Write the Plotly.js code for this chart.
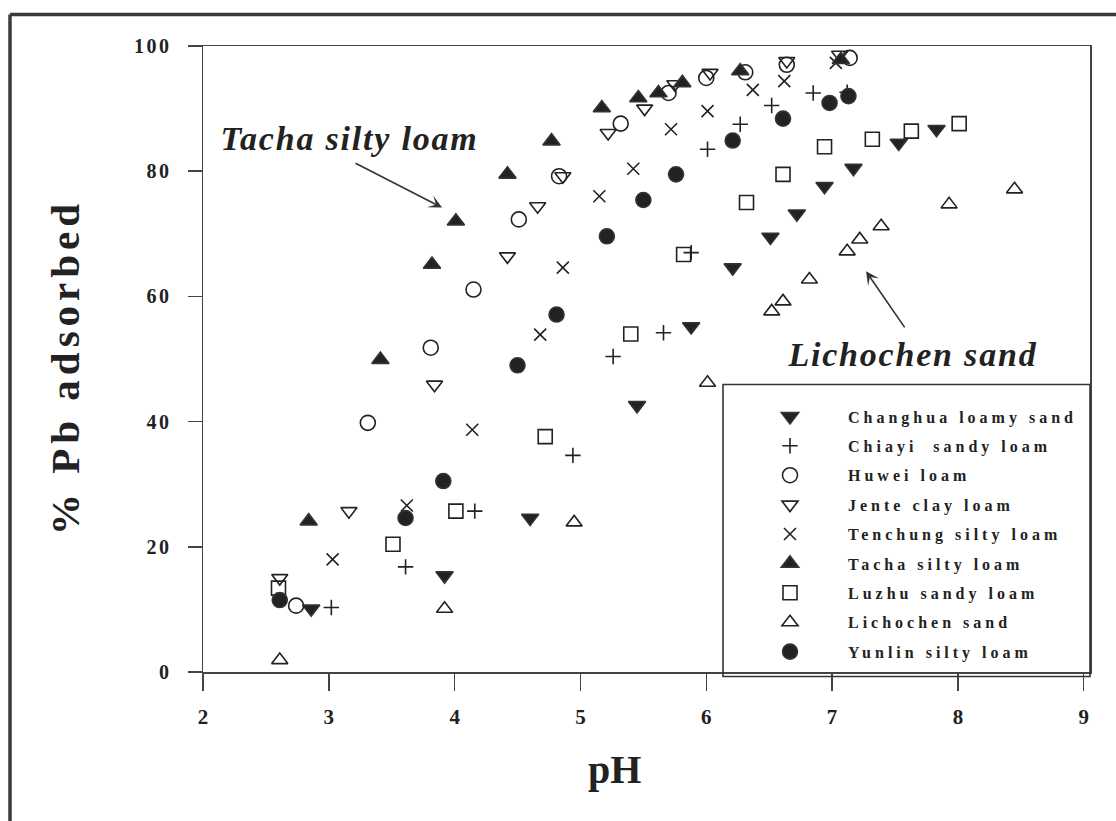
<!DOCTYPE html>
<html><head><meta charset="utf-8">
<script src="https://cdn.plot.ly/plotly-3.0.1.min.js"></script>
<style>
html,body{margin:0;padding:0;background:#fff;}
#chart{width:1116px;height:821px;}
.legendtext{letter-spacing:4px;}
g.ytick text{letter-spacing:2.5px;}
g.annotation[data-index="0"] text{letter-spacing:5px;}
g.annotation[data-index="2"] text, g.annotation[data-index="4"] text{letter-spacing:1.8px;}
</style></head><body><div id="chart"></div><script>
// ---- data (pH, % Pb adsorbed) ----
const seriesNames = ["Changhua loamy sand","Chiayi  sandy loam","Huwei loam","Jente clay loam","Tenchung silty loam","Tacha silty loam","Luzhu sandy loam","Lichochen sand","Yunlin silty loam"];

const changhuaPH  = [2.86, 3.92, 4.60, 5.45, 5.88, 6.21, 6.51, 6.72, 6.94, 7.17, 7.53, 7.83];
const changhuaPb  = [10.1, 15.4, 24.6, 42.6, 55.2, 64.6, 69.5, 73.2, 77.6, 80.5, 84.5, 86.7];

const chiayiPH    = [3.02, 3.61, 4.16, 4.94, 5.26, 5.66, 5.88, 6.01, 6.27, 6.52, 6.85, 7.12];
const chiayiPb    = [10.3, 16.8, 25.7, 34.6, 50.4, 54.2, 67.0, 83.5, 87.5, 90.5, 92.5, 92.6];

const huweiPH     = [2.74, 3.31, 3.81, 4.15, 4.51, 4.83, 5.32, 5.70, 6.00, 6.31, 6.64, 7.14];
const huweiPb     = [10.6, 39.8, 51.8, 61.1, 72.3, 79.2, 87.6, 92.5, 94.9, 95.8, 97.0, 98.1];

const jentePH     = [2.61, 3.16, 3.84, 4.42, 4.66, 4.86, 5.22, 5.51, 5.75, 6.03, 6.64, 7.06];
const jentePb     = [15.0, 25.7, 45.9, 66.4, 74.4, 79.2, 86.1, 90.0, 93.9, 95.7, 97.6, 98.6];

const tenchungPH  = [3.03, 3.62, 4.14, 4.68, 4.86, 5.15, 5.42, 5.72, 6.01, 6.37, 6.62, 7.03];
const tenchungPb  = [18.0, 26.6, 38.7, 53.9, 64.6, 76.0, 80.4, 86.7, 89.6, 93.0, 94.4, 97.3];

const tachaPH     = [2.84, 3.41, 3.82, 4.01, 4.42, 4.77, 5.17, 5.46, 5.62, 5.81, 6.27, 7.07];
const tachaPb     = [24.1, 49.9, 65.1, 72.0, 79.5, 84.8, 90.1, 91.7, 92.5, 94.1, 96.0, 97.8];

const luzhuPH     = [2.60, 3.51, 4.01, 4.72, 5.40, 5.82, 6.32, 6.61, 6.94, 7.32, 7.63, 8.01];
const luzhuPb     = [13.4, 20.4, 25.7, 37.6, 54.0, 66.7, 75.0, 79.5, 83.9, 85.1, 86.4, 87.6];

const lichochenPH = [2.61, 3.92, 4.95, 6.01, 6.52, 6.61, 6.82, 7.12, 7.22, 7.39, 7.93, 8.45];
const lichochenPb = [1.9, 10.1, 23.9, 46.2, 57.6, 59.2, 62.7, 67.2, 69.1, 71.2, 74.7, 77.1];

const yunlinPH    = [2.61, 3.61, 3.91, 4.50, 4.81, 5.21, 5.50, 5.76, 6.21, 6.61, 6.98, 7.13];
const yunlinPb    = [11.5, 24.6, 30.5, 49.0, 57.1, 69.6, 75.4, 79.5, 84.9, 88.4, 90.9, 92.0];

const xTickVals = [2, 3, 4, 5, 6, 7, 8, 9];
const yTickVals = [0, 20, 40, 60, 80, 100];

// ---- styling ----
const ink = '#222';
const lineInk = '#333';
const serif = 'Liberation Serif, Times New Roman, serif';

const xs = [changhuaPH, chiayiPH, huweiPH, jentePH, tenchungPH, tachaPH, luzhuPH, lichochenPH, yunlinPH];
const ys = [changhuaPb, chiayiPb, huweiPb, jentePb, tenchungPb, tachaPb, luzhuPb, lichochenPb, yunlinPb];
const symbols = ['triangle-down','cross-thin-open','circle-open','triangle-down-open','x-thin-open','triangle-up','square-open','triangle-up-open','circle'];
const sizes   = [15, 11, 15, 14, 12, 15, 14, 14, 15];

const traces = seriesNames.map((name, i) => ({
  type: 'scatter', mode: 'markers', name: name,
  x: xs[i], y: ys[i],
  legendgroup: 'g' + i,
  marker: {
    symbol: symbols[i], size: sizes[i], color: ink,
    line: {color: lineInk, width: 1.6}
  },
  cliponaxis: false
}));

const W = 887, H = 626; // plot area in px
const layout = {
  width: 1116, height: 821,
  paper_bgcolor: '#fff', plot_bgcolor: '#fff',
  margin: {l: 203, r: 26, t: 46, b: 149},
  showlegend: true,
  xaxis: {
    range: [2, 9.05], tickvals: xTickVals, ticktext: xTickVals.map(String),
    ticks: 'outside', ticklen: 17, tickwidth: 1.5, tickcolor: '#444',
    showline: true, linecolor: '#444', linewidth: 1.5, mirror: true,
    showgrid: false, zeroline: false,
    tickfont: {family: serif, size: 21, color: ink, weight: 'bold'},
    ticklabelstandoff: 8
  },
  yaxis: {
    range: [0, 100], tickvals: yTickVals, ticktext: yTickVals.map(String),
    ticks: 'outside', ticklen: 14, tickwidth: 1.5, tickcolor: '#444',
    showline: true, linecolor: '#444', linewidth: 1.5, mirror: true,
    showgrid: false, zeroline: false,
    tickfont: {family: serif, size: 20, color: ink, weight: 'bold'},
    ticklabelstandoff: 12
  },
  legend: {
    x: (732 - 203) / W, xanchor: 'left',
    y: (672.5 - 400) / H, yanchor: 'top',
    bgcolor: 'rgba(0,0,0,0)', borderwidth: 0,
    itemwidth: 106, tracegroupgap: 5.6,
    font: {family: serif, size: 16, color: ink, weight: 'bold'}
  },
  annotations: [
    {text: '% Pb adsorbed', textangle: -90, xref: 'paper', yref: 'paper',
     x: (64 - 203) / W, y: (672.5 - 368) / H, xanchor: 'center', yanchor: 'middle',
     showarrow: false, font: {family: serif, size: 41, color: ink, weight: 'bold'}},
    {text: 'pH', xref: 'paper', yref: 'paper',
     x: (614 - 203) / W, y: (672.5 - 770) / H, xanchor: 'center', yanchor: 'middle',
     showarrow: false, font: {family: serif, size: 40, color: ink, weight: 'bold'}},
    {text: 'Tacha silty loam', xref: 'paper', yref: 'paper',
     x: (349 - 203) / W, y: (672.5 - 139) / H, xanchor: 'center', yanchor: 'middle',
     showarrow: false, font: {family: serif, size: 34, color: ink, weight: 'bold', style: 'italic'}},
    {text: ' ', x: 3.90, y: 74.2, xref: 'x', yref: 'y', showarrow: true,
     ax: -88, ay: -45, arrowhead: 3, arrowsize: 1.4, arrowwidth: 1.6, arrowcolor: lineInk,
     font: {size: 1}, standoff: 0},
    {text: 'Lichochen sand', xref: 'paper', yref: 'paper',
     x: (913 - 203) / W, y: (672.5 - 355) / H, xanchor: 'center', yanchor: 'middle',
     showarrow: false, font: {family: serif, size: 34, color: ink, weight: 'bold', style: 'italic'}},
    {text: ' ', x: 7.27, y: 64.0, xref: 'x', yref: 'y', showarrow: true,
     ax: 40, ay: 58, arrowhead: 3, arrowsize: 1.4, arrowwidth: 1.6, arrowcolor: lineInk,
     font: {size: 1}, standoff: 0}
  ],
  shapes: [
    // legend box
    {type: 'rect', xref: 'paper', yref: 'paper',
     x0: (723 - 203) / W, x1: (1090 - 203) / W, y0: (672.5 - 677) / H, y1: (672.5 - 385) / H,
     line: {color: lineInk, width: 1.6}, fillcolor: 'rgba(0,0,0,0)', layer: 'above'},
    // scanned page frame (left and top edges visible)
    {type: 'line', xref: 'paper', yref: 'paper',
     x0: (10 - 203) / W, x1: (10 - 203) / W, y0: (672.5 - 840) / H, y1: (672.5 - 15) / H,
     line: {color: '#3a3a3a', width: 3.5}, layer: 'above'},
    {type: 'line', xref: 'paper', yref: 'paper',
     x0: (10 - 203) / W, x1: (1130 - 203) / W, y0: (672.5 - 15) / H, y1: (672.5 - 15) / H,
     line: {color: '#3a3a3a', width: 3.5}, layer: 'above'}
  ]
};

Plotly.newPlot('chart', traces, layout, {displayModeBar: false, staticPlot: true});
</script></body></html>
